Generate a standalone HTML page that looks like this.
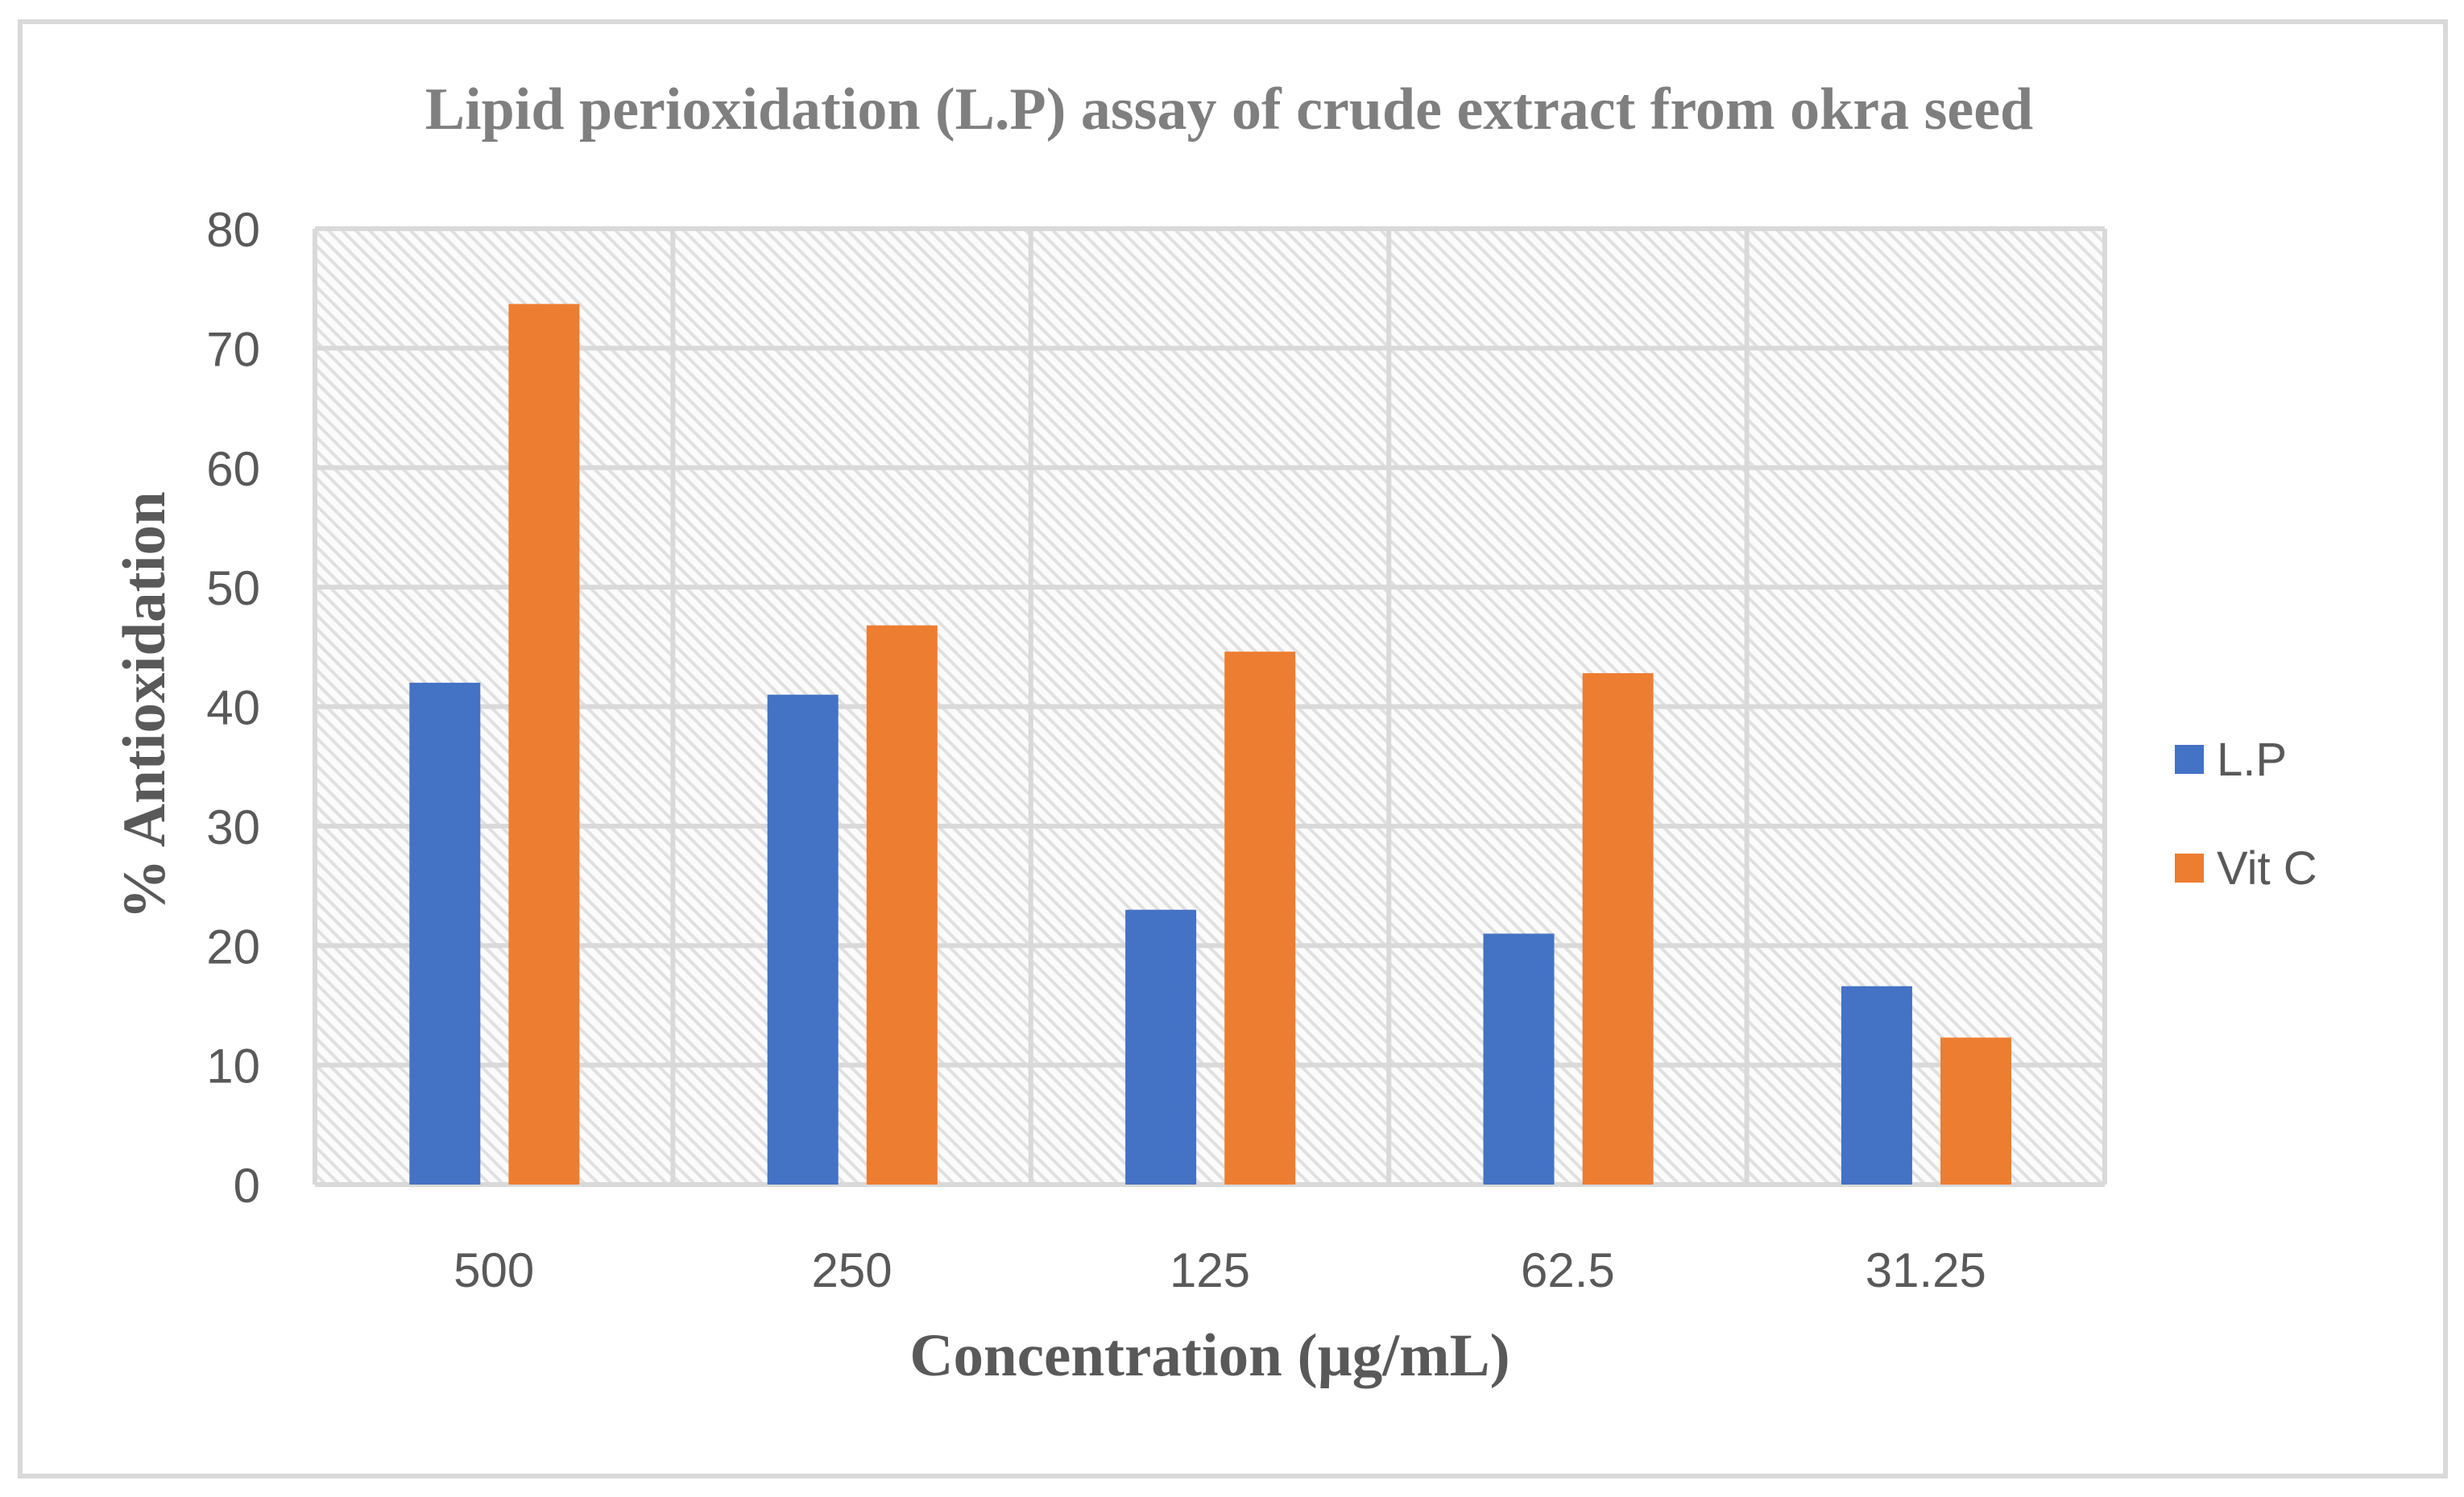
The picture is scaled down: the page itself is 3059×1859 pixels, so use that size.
<!DOCTYPE html>
<html><head><meta charset="utf-8"><style>
html,body{margin:0;padding:0;background:#fff;}
svg{display:block;}
</style></head><body>
<svg width="3059" height="1859" viewBox="0 0 3059 1859" xmlns="http://www.w3.org/2000/svg">
<defs>
<pattern id="hatch" width="12" height="12" patternUnits="userSpaceOnUse" patternTransform="rotate(-45)">
<rect width="12" height="12" fill="#fbfbfb"/>
<rect x="0" y="0" width="4" height="12" fill="#e0e0e0"/>
</pattern>
</defs>
<rect x="25" y="27" width="3011" height="1806" fill="#fff" stroke="#d9d9d9" stroke-width="6"/>
<text x="1526" y="160" text-anchor="middle" font-family="Liberation Serif, serif" font-weight="bold" font-size="74" fill="#7f7f7f">Lipid perioxidation (L.P) assay of crude extract from okra seed</text>
<rect x="391" y="284" width="2222" height="1187" fill="url(#hatch)"/>
<g id="grid"></g>
<g id="bars"></g>
<g id="labels"></g>
<text transform="translate(204,876) rotate(-90)" text-anchor="middle" font-family="Liberation Serif, serif" font-weight="bold" font-size="75" fill="#595959">% Antioxidation</text>
<text x="1502" y="1708" text-anchor="middle" font-family="Liberation Serif, serif" font-weight="bold" font-size="75" fill="#595959">Concentration (µg/mL)</text>
<g>
<rect x="2700" y="925" width="36" height="36" fill="#4472c4"/>
<text x="2752" y="963" font-family="Liberation Sans, sans-serif" font-size="58" fill="#595959">L.P</text>
<rect x="2700" y="1060" width="36" height="36" fill="#ed7d31"/>
<text x="2752" y="1098" font-family="Liberation Sans, sans-serif" font-size="58" fill="#595959">Vit C</text>
</g>
</svg>
<script>
const categories = ["500","250","125","62.5","31.25"];
const lpValues = [42, 41, 23, 21, 16.6];
const vitcValues = [73.7, 46.8, 44.6, 42.8, 12.3];
const yTicks = [0,10,20,30,40,50,60,70,80];

const NS = "http://www.w3.org/2000/svg";
const X0 = 391, X1 = 2613, Y0 = 1471, Y1 = 284, YMAX = 80;
const catW = (X1 - X0) / categories.length;
function yScale(v){ return Y0 - (v / YMAX) * (Y0 - Y1); }
function xCat(i){ return X0 + i * catW; }
function mk(tag, attrs){ const e = document.createElementNS(NS, tag); for (const k in attrs) e.setAttribute(k, attrs[k]); return e; }

const grid = document.getElementById('grid');
const bars = document.getElementById('bars');
const labels = document.getElementById('labels');

yTicks.forEach(t => {
  const y = yScale(t);
  const l = mk('line', {x1: X0, x2: X1, y1: y, y2: y, stroke: '#d9d9d9', 'stroke-width': 6});
  
  
  grid.appendChild(l);
  const tx = mk('text', {x: 323, y: y + 22, 'text-anchor': 'end', 'font-family': 'Liberation Sans, sans-serif', 'font-size': 60, fill: '#595959'});
  tx.textContent = t;
  
  
  labels.appendChild(tx);
});
for (let i = 0; i <= categories.length; i++) {
  const x = xCat(i);
  const l = mk('line', {x1: x, x2: x, y1: Y1, y2: Y0, stroke: '#d9d9d9', 'stroke-width': 6});
  
  
  grid.appendChild(l);
}
const bw = catW * 0.198, off1 = catW * 0.264, off2 = off1 + bw + catW * 0.079;
categories.forEach((c, i) => {
  const x = xCat(i);
  const b1 = mk('rect', {x: x + off1, y: yScale(lpValues[i]), width: bw, height: Y0 - yScale(lpValues[i]), fill: '#4472c4'});
  
  
  bars.appendChild(b1);
  const b2 = mk('rect', {x: x + off2, y: yScale(vitcValues[i]), width: bw, height: Y0 - yScale(vitcValues[i]), fill: '#ed7d31'});
  
  
  bars.appendChild(b2);
  const tx = mk('text', {x: x + catW / 2, y: 1598, 'text-anchor': 'middle', 'font-family': 'Liberation Sans, sans-serif', 'font-size': 60, fill: '#595959'});
  tx.textContent = c;
  
  
  labels.appendChild(tx);
});
</script>
</body></html>
